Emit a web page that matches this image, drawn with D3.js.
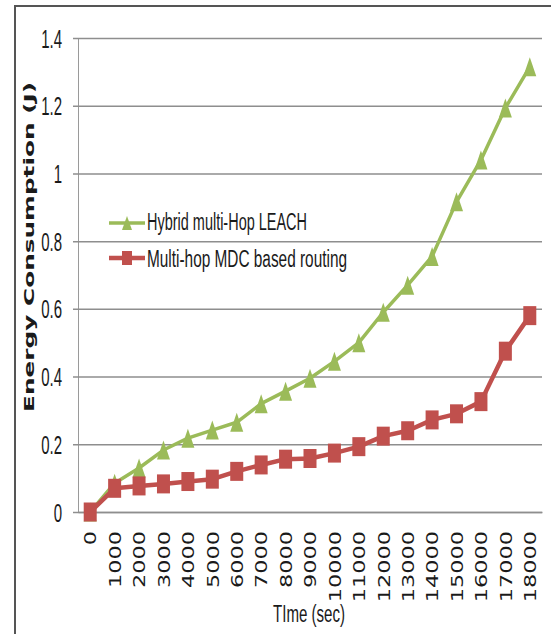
<!DOCTYPE html>
<html>
<head>
<meta charset="utf-8">
<script src="https://cdn.jsdelivr.net/npm/d3@7"></script>
<style>
  html, body { margin: 0; padding: 0; background: #fff; }
  svg { display: block; }
</style>
</head>
<body>
<svg id="chart" width="555" height="634"></svg>
<script>
// Time steps (seconds) on the category axis
const times = ["0","1000","2000","3000","4000","5000","6000","7000","8000","9000",
               "10000","11000","12000","13000","14000","15000","16000","17000","18000"];

// Energy consumption (J) per protocol
const leachEnergy = [0, 0.085, 0.13, 0.183, 0.218, 0.242, 0.265, 0.32, 0.357, 0.395,
                     0.445, 0.5, 0.59, 0.67, 0.755, 0.916, 1.04, 1.193, 1.315];
const mdcEnergy   = [0, 0.07, 0.077, 0.083, 0.09, 0.097, 0.12, 0.139, 0.156, 0.158,
                     0.174, 0.193, 0.224, 0.24, 0.272, 0.29, 0.326, 0.475, 0.58];

const yTicks = [0, 0.2, 0.4, 0.6, 0.8, 1, 1.2, 1.4];
const seriesNames = ["Hybrid multi-Hop LEACH", "Multi-hop MDC based routing"];

const svg = d3.select("#chart");
const plot = { left: 78, right: 542, top: 38, bottom: 512 };
const GREEN = "#9bbb59", RED = "#c0504d", TEXT = "#1a1a1a", GRID = "#8e8e8e";

// outer frame (left and top edges)
svg.append("path")
  .attr("d", "M15,634 L15,6 L551,6")
  .attr("fill", "none").attr("stroke", "#555").attr("stroke-width", 2);

const x = d3.scalePoint().domain(times).range([plot.left, plot.right]).padding(0.5);
const y = d3.scaleLinear().domain([0, 1.4]).range([plot.bottom, plot.top]);

// y axis with horizontal gridlines
const yAxis = svg.append("g")
  .attr("transform", `translate(${plot.left},0)`)
  .call(d3.axisLeft(y).tickValues(yTicks).tickSizeOuter(0).tickFormat(d3.format("")));
yAxis.select(".domain").attr("stroke", "#9a9a9a").attr("stroke-width", 1);
yAxis.selectAll(".tick line")
  .attr("x1", -5).attr("x2", plot.right - plot.left)
  .attr("stroke", GRID).attr("stroke-width", 1.5);
yAxis.selectAll(".tick text")
  .attr("fill", TEXT)
  .style("font-family", "'Liberation Sans', Arial, sans-serif")
  .style("font-size", "25px")
  .attr("text-anchor", "end")
  .attr("x", -16 / 0.6)
  .attr("dy", "0.36em")
  .attr("transform", "scale(0.6,1)");

// x axis with vertical tick labels
const xAxis = svg.append("g")
  .attr("transform", `translate(0,${plot.bottom})`)
  .call(d3.axisBottom(x).tickSize(0).tickSizeOuter(0));
xAxis.select(".domain").attr("stroke", GRID).attr("stroke-width", 1.5);
xAxis.selectAll(".tick text")
  .attr("fill", TEXT)
  .style("font-family", "'DejaVu Sans', Verdana, sans-serif")
  .style("font-size", "16px")
  .attr("text-anchor", "end")
  .attr("x", 0).attr("y", 0)
  .attr("dy", "0.36em")
  .attr("transform", "translate(0,19) rotate(-90) scale(1.4,1)");

// axis titles
svg.append("text")
  .attr("x", 309).attr("y", 622)
  .attr("text-anchor", "middle")
  .attr("fill", TEXT)
  .style("font-family", "'Liberation Sans', Arial, sans-serif")
  .style("font-size", "23px")
  .attr("textLength", 72).attr("lengthAdjust", "spacingAndGlyphs")
  .text("TIme (sec)");

svg.append("text")
  .attr("transform", "translate(34,247) rotate(-90)")
  .attr("text-anchor", "middle")
  .attr("fill", TEXT)
  .style("font-family", "'DejaVu Sans', Verdana, sans-serif")
  .style("font-size", "13.5px")
  .style("font-weight", "bold")
  .attr("textLength", 330).attr("lengthAdjust", "spacingAndGlyphs")
  .text("Energy Consumption (J)");

// marker shapes
const triPath = (w, h) => `M0,${-h/2} L${w/2},${h/2} L${-w/2},${h/2} Z`;

const line = d3.line().x((d, i) => x(times[i])).y(d => y(d));

// LEACH series (drawn first so MDC sits on top)
svg.append("path")
  .datum(leachEnergy)
  .attr("d", line)
  .attr("fill", "none").attr("stroke", GREEN).attr("stroke-width", 3.5)
  .attr("stroke-linejoin", "round");
svg.append("g").selectAll("path")
  .data(leachEnergy)
  .join("path")
  .attr("d", triPath(13, 19))
  .attr("transform", (d, i) => `translate(${x(times[i])},${y(d)})`)
  .attr("fill", GREEN);

// MDC series
svg.append("path")
  .datum(mdcEnergy)
  .attr("d", line)
  .attr("fill", "none").attr("stroke", RED).attr("stroke-width", 4.5)
  .attr("stroke-linejoin", "round");
svg.append("g").selectAll("rect")
  .data(mdcEnergy)
  .join("rect")
  .attr("x", (d, i) => x(times[i]) - 6.5)
  .attr("y", d => y(d) - 9.5)
  .attr("width", 13).attr("height", 19)
  .attr("fill", RED);

// legend
const legend = svg.append("g");
const legendRows = [
  { name: seriesNames[0], color: GREEN, cy: 223, base: 230, width: 160, sw: 3.5, marker: "tri" },
  { name: seriesNames[1], color: RED, cy: 258, base: 267, width: 200, sw: 4.5, marker: "sq" }
];
legendRows.forEach(r => {
  legend.append("line")
    .attr("x1", 109).attr("x2", 145).attr("y1", r.cy).attr("y2", r.cy)
    .attr("stroke", r.color).attr("stroke-width", r.sw);
  if (r.marker === "tri") {
    legend.append("path").attr("d", triPath(10, 14))
      .attr("transform", `translate(127,${r.cy})`).attr("fill", r.color);
  } else {
    legend.append("rect").attr("x", 122).attr("y", r.cy - 7)
      .attr("width", 10).attr("height", 14).attr("fill", r.color);
  }
  legend.append("text")
    .attr("x", 147).attr("y", r.base)
    .attr("fill", TEXT)
    .style("font-family", "'Liberation Sans', Arial, sans-serif")
    .style("font-size", "23px")
    .attr("textLength", r.width).attr("lengthAdjust", "spacingAndGlyphs")
    .text(r.name);
});
</script>
</body>
</html>
